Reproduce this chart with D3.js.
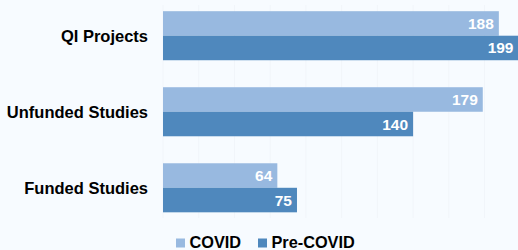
<!DOCTYPE html>
<html>
<head>
<meta charset="utf-8">
<script src="https://cdn.jsdelivr.net/npm/d3@7"></script>
<style>
  html, body { margin: 0; padding: 0; background: #f7fbff; }
  svg { display: block; }
</style>
</head>
<body>
<div id="chart"></div>
<script>
const categories = ['QI Projects', 'Unfunded Studies', 'Funded Studies'];
const seriesNames = ['COVID', 'Pre-COVID'];
const covidValues = [188, 179, 64];
const preCovidValues = [199, 140, 75];
const gridTicks = [0, 20, 40, 60, 80, 100, 120, 140, 160, 180, 200];

const W = 518, H = 250;
const colors = { 'COVID': '#98b9e0', 'Pre-COVID': '#4f88bd' };
const font = 'Liberation Sans, Arial, Helvetica, sans-serif';

const svg = d3.select('#chart').append('svg')
  .attr('width', W).attr('height', H);

svg.append('rect').attr('width', W).attr('height', H).attr('fill', '#f7fbff');

const x = d3.scaleLinear().domain([0, 199]).range([163, 518.5]);
const y = d3.scaleBand().domain(categories).range([-2.5, 226]).paddingInner(0.355).paddingOuter(0.18);
const ySub = d3.scaleBand().domain(seriesNames).range([0, y.bandwidth()]);

// faint grid, barely visible
svg.selectAll('line.grid').data(gridTicks).join('line')
  .attr('class', 'grid')
  .attr('x1', d => x(d)).attr('x2', d => x(d))
  .attr('y1', 5).attr('y2', 218)
  .attr('stroke', '#f1f5fa').attr('stroke-width', 1);

const rows = categories.map((c, i) => ({
  cat: c,
  vals: [
    { s: 'COVID', v: covidValues[i] },
    { s: 'Pre-COVID', v: preCovidValues[i] },
  ],
}));

const g = svg.selectAll('g.row').data(rows).join('g')
  .attr('class', 'row')
  .attr('transform', d => `translate(0,${y(d.cat)})`);

g.selectAll('rect').data(d => d.vals).join('rect')
  .attr('x', x(0))
  .attr('y', d => ySub(d.s))
  .attr('width', d => x(d.v) - x(0))
  .attr('height', ySub.bandwidth())
  .attr('fill', d => colors[d.s]);

g.selectAll('text.val').data(d => d.vals).join('text')
  .attr('class', 'val')
  .attr('x', d => x(d.v) - 5)
  .attr('y', d => ySub(d.s) + ySub.bandwidth() / 2 + 5.5)
  .attr('text-anchor', 'end')
  .attr('font-family', font).attr('font-weight', 'bold').attr('font-size', 15.5)
  .attr('fill', '#fff')
  .text(d => d.v);

// category labels
svg.selectAll('text.cat').data(categories).join('text')
  .attr('class', 'cat')
  .attr('x', 148)
  .attr('y', d => y(d) + y.bandwidth() / 2 + 6)
  .attr('text-anchor', 'end')
  .attr('font-family', font).attr('font-weight', 'bold').attr('font-size', 16.5)
  .attr('fill', '#000')
  .text(d => d);

// legend
const legendX = [176, 258];
const lg = svg.selectAll('g.legend').data(seriesNames).join('g')
  .attr('class', 'legend')
  .attr('transform', (d, i) => `translate(${legendX[i]},237)`);
lg.append('rect').attr('width', 9).attr('height', 9).attr('y', 1.5)
  .attr('fill', d => colors[d]);
lg.append('text').attr('x', 13.5).attr('y', 11)
  .attr('font-family', font).attr('font-weight', 'bold').attr('font-size', 16.3)
  .attr('fill', '#000')
  .text(d => d);
</script>
</body>
</html>
